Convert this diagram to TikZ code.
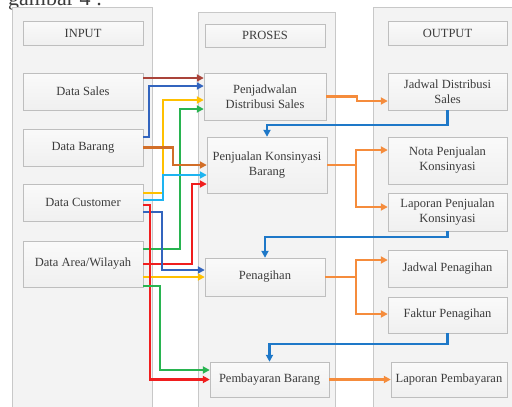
\documentclass[tikz,border=0pt]{standalone}
\usepackage{fontspec}
\setmainfont{Liberation Serif}
\usetikzlibrary{arrows.meta,shadows}
\definecolor{panelfill}{RGB}{243,243,243}
\definecolor{paneldraw}{RGB}{200,200,200}
\definecolor{boxdraw}{RGB}{190,190,190}
\definecolor{boxtext}{RGB}{60,60,60}
\definecolor{cbrown}{RGB}{170,68,58}
\definecolor{cblue}{RGB}{50,100,190}
\definecolor{cyellow}{RGB}{255,192,0}
\definecolor{cgreen}{RGB}{40,180,80}
\definecolor{corange}{RGB}{210,110,40}
\definecolor{ccyan}{RGB}{30,180,240}
\definecolor{cred}{RGB}{240,30,30}
\definecolor{oorange}{RGB}{245,140,60}
\definecolor{oblue}{RGB}{30,120,200}
\begin{document}
\begin{tikzpicture}[x=1pt,y=-1pt,
	panel/.style={draw=paneldraw, fill=panelfill, line width=0.8pt},
	box/.style={draw=boxdraw, top color=white!96!gray, bottom color=white!88!gray,
		minimum width=120pt, minimum height=37pt, inner sep=0pt, align=center,
		text=boxtext, font=\fontsize{12.5}{15}\selectfont,
		drop shadow={opacity=0.2, shadow xshift=1pt, shadow yshift=-1pt}},
	link/.style={line width=2.1pt, -{Triangle[length=7pt,width=7pt]}}]
	\useasboundingbox (0,0) rectangle (512,407);
	
	\node[anchor=base west, font=\fontsize{22}{24}\selectfont, text=boxtext, inner sep=0pt] (judul) at (8,5) {gambar 4 :};
	
	% kolom
	\draw[panel] (12,7) rectangle (152,415);
	\draw[panel] (198,12) rectangle (335,415);
	\draw[panel] (373,7) rectangle (520,415);
	
	\node[box, minimum height=24pt] (hin) at (83,33) {INPUT};
	\node[box, minimum height=23pt] (hpr) at (265,35.5) {PROSES};
	\node[box, minimum height=24pt, minimum width=119pt] (hout) at (447.5,33) {OUTPUT};
	
	% input
	\node[box] (ds) at (83,91.5) {Data Sales};
	\node[box] (db) at (83,147.5) {Data Barang};
	\node[box] (dc) at (83,202.5) {Data Customer};
	\node[box, minimum height=46pt] (da) at (83,264) {Data Area/Wilayah};
	
	% proses
	\node[box, minimum width=122pt, minimum height=47pt] (pj) at (265,96.5) {Penjadwalan\\Distribusi Sales};
	\node[box, minimum height=56pt] (pk) at (267,165) {Penjualan Konsinyasi\\Barang};
	\node[box, minimum height=38pt] (pg) at (265,277) {Penagihan};
	\node[box, minimum width=119pt, minimum height=35pt] (pb) at (269.5,379.5) {Pembayaran Barang};
	
	% output
	\node[box, minimum width=119pt] (jd) at (447.5,91.5) {Jadwal Distribusi\\Sales};
	\node[box, minimum width=119pt, minimum height=47pt] (np) at (447.5,160.5) {Nota Penjualan\\Konsinyasi};
	\node[box, minimum width=119pt, minimum height=38pt] (lk) at (447.5,212) {Laporan Penjualan\\Konsinyasi};
	\node[box, minimum width=119pt] (jp) at (447.5,268.5) {Jadwal Penagihan};
	\node[box, minimum width=119pt, minimum height=36pt] (fp) at (447.5,315) {Faktur Penagihan};
	\node[box, minimum width=116pt, minimum height=35pt] (lp) at (449,379.5) {Laporan Pembayaran};
	
	% input -> proses
	\draw[link, color=cbrown] ([yshift=13.5pt]ds.east) -- ([yshift=18.5pt]pj.west);
	\draw[link, color=cblue] ([yshift=10.5pt]db.east) -- ++(6,0) |- ([yshift=10.5pt]pj.west);
	\draw[link, color=cyellow] ([yshift=9.5pt]dc.east) -- ++(20,0) |- ([yshift=-3.5pt]pj.west);
	\draw[link, color=cgreen] ([yshift=15pt]da.east) -- ++(37,0) |- ([yshift=-12.5pt]pj.west);
	\draw[link, color=corange] (db.east) -- ++(30,0) |- (pk.west);
	\draw[link, color=ccyan] ([yshift=2.5pt]dc.east) -- ++(20,0) |- ([yshift=-10pt]pk.west);
	\draw[link, color=cred] (da.east) -- ++(49,0) |- ([yshift=-19pt]pk.west);
	\draw[link, color=cblue] ([yshift=-9.5pt]dc.east) -- ++(19,0) |- ([yshift=7pt]pg.west);
	\draw[link, color=cyellow] ([yshift=-13pt]da.east) -- (pg.west);
	\draw[link, color=cred] ([yshift=-2.5pt]dc.east) -- ++(7,0) |- (pb.west);
	\draw[link, color=cgreen] ([yshift=-22pt]da.east) -- ++(17,0) |- ([yshift=9.5pt]pb.west);
	
	% proses -> output
	\draw[link, color=oorange] (pj.east) -- ++(31,0) |- ([yshift=-9.5pt]jd.west);
	\draw[link, color=oblue] (jd.south) -- ++(0,15) -| (pk.north);
	\draw[link, color=oorange] (pk.east) -- ++(29,0) coordinate (cab1) |- ([yshift=10.5pt]np.west);
	\draw[link, color=oorange] (cab1) |- ([yshift=5pt]lk.west);
	\draw[link, color=oblue] (lk.south) -- ++(0,6) -| (pg.north);
	\draw[link, color=oorange] (pg.east) -- ++(31,0) coordinate (cab2) |- ([yshift=8.5pt]jp.west);
	\draw[link, color=oorange] (cab2) |- ([yshift=1pt]fp.west);
	\draw[link, color=oblue] (fp.south) -- ++(0,11) -| (pb.north);
	\draw[link, color=oorange] (pb.east) -- (lp.west);
\end{tikzpicture}
\end{document}
